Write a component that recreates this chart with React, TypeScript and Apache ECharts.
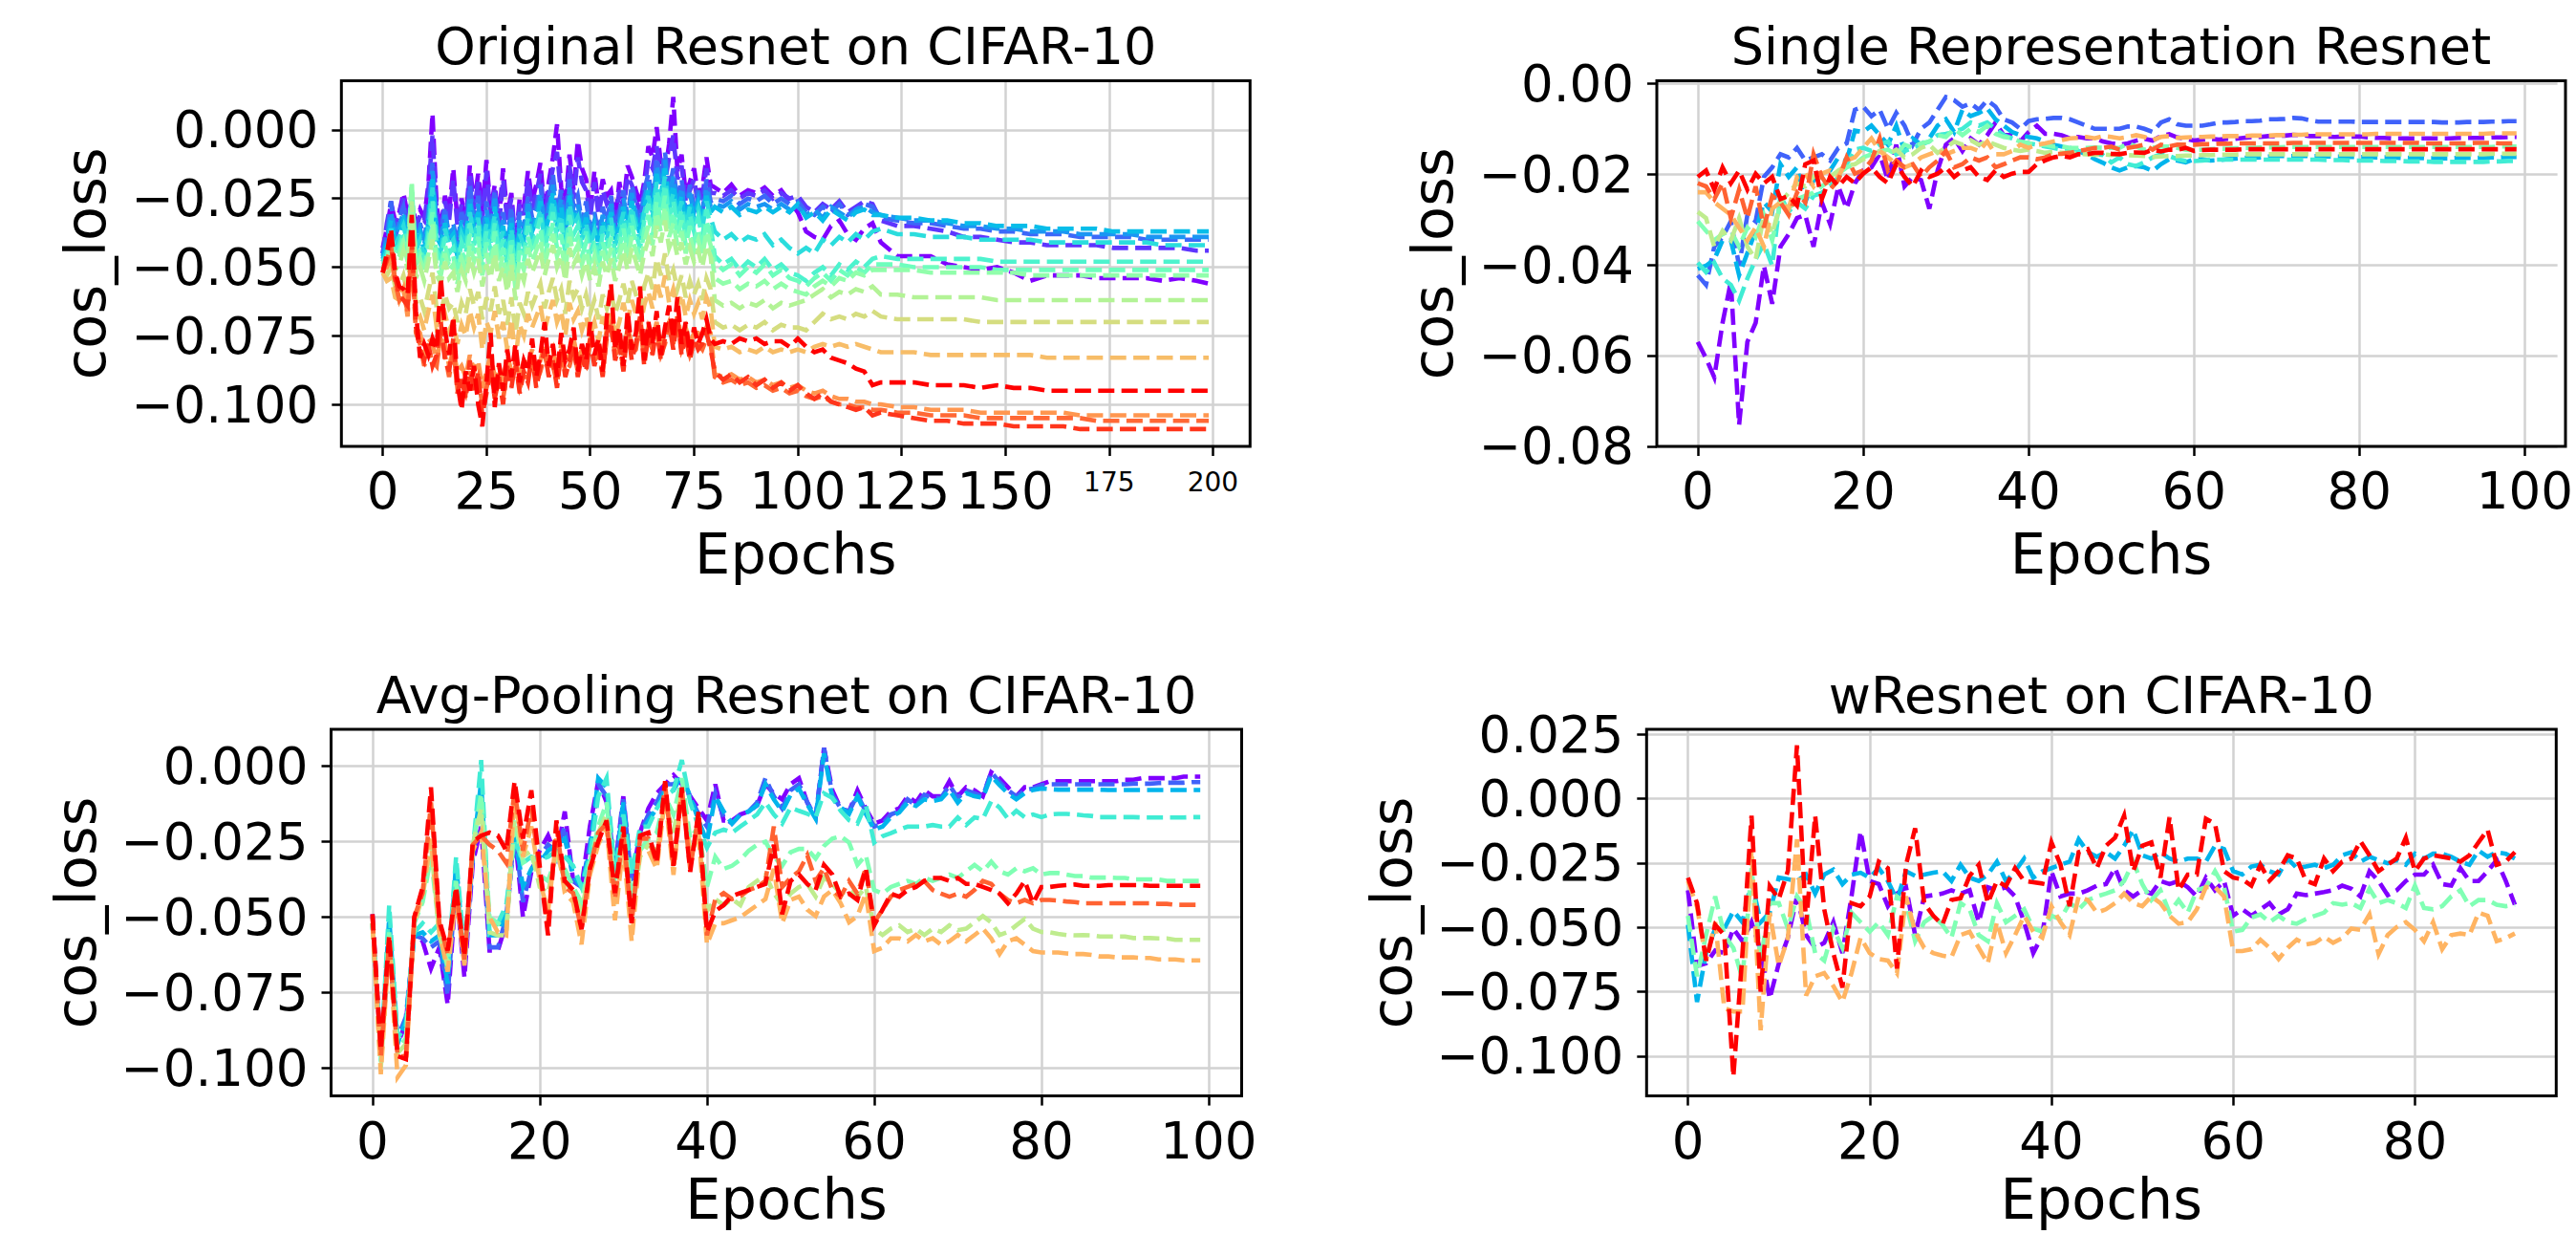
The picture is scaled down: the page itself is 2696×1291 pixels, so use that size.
import React, { useEffect, useRef } from "react";
import * as echarts from "echarts";

const FONT = '"DejaVu Sans", "Liberation Sans", sans-serif';

// ---------- x positions (epochs) ----------
const ORIG_EPOCHS: number[] = [];
for (let e = 0; e < 80; e++) ORIG_EPOCHS.push(e);
for (let e = 80; e <= 120; e += 2) ORIG_EPOCHS.push(e);
for (let e = 124; e <= 196; e += 4) ORIG_EPOCHS.push(e);
ORIG_EPOCHS.push(199);
const EPOCHS_100: number[] = Array.from({ length: 100 }, (_, i) => i);
const EPOCHS_92: number[] = Array.from({ length: 92 }, (_, i) => i);

// ---------- tick values ----------
const ORIG_X_TICKS = [0, 25, 50, 75, 100, 125, 150, 175, 200];
const ORIG_Y_TICKS = [0, -0.025, -0.05, -0.075, -0.1];
const SINGLE_X_TICKS = [0, 20, 40, 60, 80, 100];
const SINGLE_Y_TICKS = [0, -0.02, -0.04, -0.06, -0.08];
const AVG_X_TICKS = [0, 20, 40, 60, 80, 100];
const AVG_Y_TICKS = [0, -0.025, -0.05, -0.075, -0.1];
const WRES_X_TICKS = [0, 20, 40, 60, 80];
const WRES_Y_TICKS = [0.025, 0, -0.025, -0.05, -0.075, -0.1];

// ---------- colours (rainbow colormap) ----------
const RAINBOW_16 = ["#8000ff", "#5e35fe", "#3c68f9", "#1a96f3", "#08bde9", "#2bdddd", "#4df3ce", "#6efebd",
  "#91feab", "#b3f396", "#d5dd80", "#f7bd68", "#ff964f", "#ff6835", "#ff351b", "#ff0000"];
const RAINBOW_9 = ["#8000ff", "#4062fa", "#00b4ec", "#40ecd4", "#80ffb4", "#bfec8e", "#ffb462", "#ff6232", "#ff0000"];
const RAINBOW_5 = ["#8000ff", "#00b4ec", "#80ffb4", "#ffb462", "#ff0000"];

// ---------- Original Resnet (values x1e-3), epochs per ORIG_EPOCHS ----------
const ORIG_0 = [
  -43, -36, -27, -33, -30, -23, -31, -26, -34, -29, -32, -20, 6, -28, -36, -24, -30, -14, -33, -25,
  -34, -13, -27, -16, -30, -11, -29, -20, -33, -14, -31, -23, -42, -25, -28, -15, -26, -20, -12, -30,
  -19, -10, 2, -21, -27, -9, -22, -4, -14, -18, -30, -15, -28, -18, -24, -22, -33, -19, -27, -13,
  -17, -22, -27, -19, -6, -10, 1, -12, -16, -5, 12, -15, -9, -23, -19, -14, -24, -21, -10, -20,
  -21, -23, -20, -24, -22, -23, -21, -24, -22, -26, -30, -37, -39, -40, -35, -33, -38, -40, -36, -34, -41,
  -46, -46, -46, -49, -50, -51, -50, -52, -55, -53, -53, -53, -54, -54, -54, -54, -55, -54, -55, -56];
const ORIG_1 = [
  -45, -34, -26, -35, -30, -25, -33, -28, -36, -31, -33, -22, -2, -30, -37, -26, -33, -18, -35, -27,
  -35, -16, -29, -19, -33, -15, -31, -22, -35, -18, -33, -25, -43, -27, -31, -18, -29, -23, -16, -32,
  -22, -14, -8, -24, -30, -13, -25, -10, -19, -22, -32, -19, -31, -22, -27, -25, -35, -22, -29, -17,
  -20, -25, -30, -22, -11, -14, -6, -16, -19, -10, -2, -18, -13, -26, -22, -18, -27, -24, -14, -23,
  -23, -24, -22, -25, -23, -24, -22, -25, -23, -25, -24, -28, -30, -27, -29, -26, -30, -28, -26, -27, -33,
  -35, -35, -36, -37, -39, -39, -40, -41, -41, -42, -42, -42, -42, -43, -43, -43, -43, -43, -44, -44];
const ORIG_2 = [
  -45, -38, -26, -40, -32, -28, -36, -30, -42, -34, -40, -30, -12, -35, -38, -28, -40, -34, -42, -30,
  -36, -20, -32, -24, -38, -26, -34, -22, -36, -30, -40, -28, -45, -30, -36, -24, -32, -28, -20, -34,
  -26, -16, -30, -22, -36, -18, -28, -24, -34, -26, -36, -30, -38, -28, -34, -24, -36, -30, -22, -32,
  -20, -28, -34, -22, -16, -26, -10, -18, -8, -22, -14, -26, -18, -30, -20, -28, -22, -30, -18, -26,
  -25, -26, -24, -27, -25, -26, -24, -27, -25, -27, -26, -30, -31, -28, -30, -27, -31, -29, -27, -28, -32,
  -33, -34, -34, -35, -36, -36, -37, -37, -38, -38, -38, -39, -39, -39, -39, -40, -40, -40, -40, -40];
const ORIG_3 = [
  -46, -40, -30, -38, -35, -30, -38, -27, -40, -36, -42, -32, -15, -37, -40, -31, -38, -36, -44, -33,
  -38, -24, -35, -27, -40, -29, -37, -25, -38, -33, -42, -31, -47, -33, -38, -27, -35, -31, -23, -36,
  -29, -20, -33, -25, -38, -21, -31, -27, -36, -29, -38, -33, -40, -31, -36, -27, -38, -33, -25, -34,
  -23, -31, -36, -25, -19, -28, -13, -21, -11, -25, -17, -28, -21, -32, -23, -30, -25, -32, -21, -28,
  -27, -28, -26, -29, -27, -28, -27, -29, -27, -29, -28, -31, -29, -32, -28, -30, -32, -29, -28, -30, -31,
  -32, -33, -33, -34, -35, -35, -36, -36, -37, -37, -37, -38, -38, -38, -38, -39, -39, -39, -39, -39];
const ORIG_4 = [
  -47, -42, -33, -40, -37, -33, -40, -25, -42, -38, -44, -34, -18, -39, -42, -34, -40, -38, -46, -36,
  -40, -27, -37, -30, -42, -32, -39, -28, -40, -35, -44, -34, -48, -36, -40, -30, -37, -33, -26, -38,
  -32, -23, -35, -28, -40, -24, -33, -30, -38, -32, -40, -35, -42, -33, -38, -30, -40, -35, -28, -36,
  -26, -33, -38, -28, -22, -30, -16, -24, -14, -27, -20, -30, -24, -34, -26, -32, -27, -34, -24, -30,
  -28, -30, -28, -31, -29, -30, -28, -30, -28, -30, -27, -32, -30, -33, -29, -31, -33, -30, -29, -31, -31,
  -32, -32, -33, -33, -34, -34, -35, -35, -35, -36, -36, -36, -36, -37, -37, -37, -37, -37, -37, -37];
const ORIG_5 = [
  -48, -44, -36, -42, -39, -35, -41, -24, -44, -40, -46, -36, -21, -41, -44, -36, -42, -40, -48, -38,
  -42, -30, -39, -32, -44, -34, -41, -31, -42, -37, -46, -36, -50, -38, -42, -32, -39, -35, -29, -40,
  -34, -26, -37, -31, -42, -27, -35, -32, -40, -34, -42, -37, -44, -35, -40, -32, -42, -37, -30, -38,
  -28, -35, -40, -30, -24, -32, -19, -26, -17, -29, -23, -32, -26, -36, -28, -34, -29, -36, -26, -32,
  -37, -40, -38, -41, -39, -40, -38, -42, -40, -43, -45, -43, -45, -40, -42, -39, -41, -38, -40, -37, -36,
  -38, -38, -39, -39, -39, -40, -40, -40, -40, -41, -41, -41, -41, -41, -41, -41, -42, -42, -42, -42];
const ORIG_6 = [
  -48, -46, -38, -44, -42, -37, -44, -22, -47, -43, -48, -39, -26, -44, -47, -39, -45, -43, -50, -41,
  -45, -34, -42, -35, -47, -37, -44, -34, -45, -40, -49, -39, -52, -41, -45, -35, -42, -38, -32, -43,
  -37, -30, -40, -34, -45, -31, -38, -35, -43, -37, -45, -40, -47, -38, -43, -35, -45, -40, -33, -41,
  -31, -38, -43, -33, -27, -35, -22, -29, -20, -32, -26, -35, -29, -39, -31, -37, -32, -39, -29, -35,
  -46, -49, -47, -51, -48, -50, -47, -51, -49, -52, -53, -55, -52, -50, -53, -49, -51, -48, -50, -47, -46,
  -47, -47, -47, -47, -47, -47, -48, -48, -48, -48, -48, -48, -48, -48, -48, -48, -48, -48, -48, -48];
const ORIG_7 = [
  -49, -47, -40, -46, -44, -39, -46, -20, -49, -45, -50, -42, -30, -47, -50, -42, -48, -46, -53, -44,
  -48, -38, -45, -39, -50, -41, -47, -37, -48, -43, -52, -42, -55, -44, -48, -39, -45, -41, -36, -46,
  -40, -34, -43, -38, -48, -35, -42, -39, -46, -41, -48, -43, -50, -41, -46, -39, -48, -43, -36, -44,
  -35, -41, -46, -37, -31, -39, -26, -33, -24, -36, -30, -39, -33, -42, -35, -41, -36, -43, -33, -39,
  -48, -51, -49, -53, -50, -52, -49, -53, -51, -54, -55, -57, -54, -52, -55, -51, -53, -50, -52, -49, -49,
  -49, -50, -50, -50, -50, -50, -51, -51, -51, -51, -51, -51, -51, -51, -51, -51, -51, -51, -51, -51];
const ORIG_8 = [
  -50, -48, -42, -48, -46, -41, -48, -19, -51, -47, -52, -45, -34, -50, -53, -45, -51, -49, -56, -47,
  -51, -42, -48, -43, -53, -45, -50, -41, -51, -46, -55, -45, -58, -47, -51, -43, -48, -44, -40, -49,
  -43, -38, -46, -42, -51, -39, -45, -42, -49, -44, -51, -46, -53, -44, -49, -43, -51, -46, -40, -47,
  -39, -44, -49, -41, -35, -42, -30, -37, -28, -39, -34, -42, -37, -45, -39, -44, -40, -46, -37, -42,
  -54, -56, -55, -58, -56, -57, -55, -58, -56, -58, -59, -60, -57, -55, -57, -54, -55, -52, -53, -51, -51,
  -51, -51, -52, -52, -52, -52, -52, -52, -53, -53, -53, -53, -53, -53, -53, -53, -53, -53, -53, -53];
const ORIG_9 = [
  -50, -50, -45, -51, -49, -44, -51, -26, -54, -50, -55, -48, -40, -53, -56, -48, -54, -52, -59, -51,
  -55, -46, -52, -47, -57, -49, -54, -45, -55, -50, -59, -49, -62, -51, -55, -47, -52, -48, -44, -53,
  -47, -42, -50, -46, -55, -43, -49, -46, -53, -48, -55, -50, -57, -48, -53, -47, -55, -50, -44, -51,
  -43, -48, -53, -45, -40, -46, -35, -41, -33, -43, -39, -46, -41, -49, -43, -48, -44, -50, -42, -46,
  -62, -64, -63, -65, -63, -64, -62, -65, -63, -64, -63, -62, -60, -58, -61, -59, -60, -58, -59, -57, -60,
  -60, -61, -61, -61, -61, -61, -62, -62, -62, -62, -62, -62, -62, -62, -62, -62, -62, -62, -62, -62];
const ORIG_10 = [
  -51, -53, -50, -57, -57, -53, -60, -38, -63, -61, -66, -59, -52, -65, -67, -60, -65, -63, -70, -63,
  -67, -58, -64, -59, -69, -61, -66, -57, -67, -62, -71, -61, -74, -63, -67, -59, -64, -60, -56, -65,
  -59, -54, -62, -58, -67, -55, -61, -58, -65, -60, -67, -62, -69, -60, -65, -59, -67, -62, -56, -63,
  -55, -60, -65, -57, -52, -58, -47, -53, -45, -55, -51, -58, -53, -61, -55, -60, -56, -62, -54, -58,
  -70, -72, -71, -73, -71, -72, -70, -73, -71, -72, -72, -73, -70, -67, -69, -68, -69, -67, -68, -66, -68,
  -69, -69, -69, -69, -69, -70, -70, -70, -70, -70, -70, -70, -70, -70, -70, -70, -70, -70, -70, -70];
const ORIG_11 = [
  -52, -55, -54, -61, -62, -58, -66, -44, -70, -68, -73, -66, -60, -72, -70, -67, -73, -70, -78, -71,
  -75, -66, -72, -67, -80, -70, -74, -66, -76, -70, -80, -69, -83, -71, -75, -67, -72, -68, -64, -73,
  -67, -62, -70, -66, -75, -63, -69, -66, -73, -68, -75, -70, -77, -68, -73, -66, -75, -70, -63, -70,
  -62, -67, -72, -64, -59, -65, -55, -61, -53, -63, -58, -65, -60, -68, -62, -67, -63, -69, -61, -65,
  -79, -80, -79, -81, -80, -81, -79, -81, -80, -81, -80, -81, -79, -78, -79, -78, -79, -78, -79, -80, -81,
  -81, -81, -82, -82, -82, -82, -82, -82, -82, -83, -83, -83, -83, -83, -83, -83, -83, -83, -83, -83];
const ORIG_12 = [
  -51, -50, -46, -56, -62, -58, -68, -46, -72, -74, -82, -76, -78, -84, -76, -78, -86, -80, -88, -86,
  -90, -82, -88, -84, -94, -88, -82, -90, -86, -92, -82, -88, -84, -90, -84, -86, -80, -88, -84, -78,
  -84, -80, -88, -78, -84, -82, -76, -84, -80, -82, -76, -80, -78, -84, -72, -70, -78, -76, -82, -72,
  -78, -76, -68, -80, -72, -76, -70, -78, -74, -70, -74, -68, -76, -72, -78, -74, -74, -76, -72, -74,
  -89, -90, -89, -91, -90, -92, -91, -93, -92, -94, -93, -95, -96, -95, -97, -98, -98, -99, -99, -100, -100,
  -101, -101, -102, -102, -102, -103, -103, -103, -103, -103, -103, -104, -104, -104, -104, -104, -104, -104, -104, -104];
const ORIG_13 = [
  -51, -48, -42, -55, -62, -60, -66, -42, -74, -78, -86, -80, -84, -86, -74, -82, -90, -80, -94, -92,
  -96, -88, -94, -90, -100, -94, -88, -96, -92, -98, -88, -92, -86, -94, -90, -90, -84, -92, -88, -82,
  -88, -86, -92, -82, -88, -86, -80, -88, -84, -86, -78, -84, -82, -88, -76, -72, -82, -80, -86, -74,
  -82, -80, -70, -84, -76, -80, -74, -82, -78, -72, -78, -70, -80, -76, -82, -78, -78, -80, -76, -78,
  -90, -92, -91, -93, -92, -94, -93, -95, -94, -96, -95, -97, -98, -97, -99, -100, -100, -101, -101, -102, -102,
  -103, -103, -104, -104, -104, -105, -105, -105, -105, -105, -105, -105, -106, -106, -106, -106, -106, -106, -106, -106];
const ORIG_14 = [
  -52, -47, -40, -54, -60, -62, -64, -40, -72, -80, -84, -78, -86, -82, -70, -84, -88, -76, -96, -90,
  -98, -84, -96, -88, -104, -96, -86, -98, -90, -100, -86, -94, -84, -96, -88, -92, -82, -94, -86, -80,
  -90, -84, -94, -80, -90, -84, -78, -90, -82, -88, -76, -86, -80, -90, -74, -70, -84, -78, -88, -72,
  -84, -78, -68, -86, -74, -82, -72, -84, -76, -70, -80, -68, -82, -74, -84, -76, -80, -78, -74, -80,
  -88, -91, -89, -92, -90, -93, -91, -94, -92, -95, -93, -96, -98, -96, -99, -100, -101, -102, -101, -104, -103,
  -104, -105, -106, -106, -107, -107, -107, -108, -108, -108, -108, -109, -109, -109, -109, -109, -109, -109, -109, -109];
const ORIG_15 = [
  -52, -45, -36, -52, -57, -58, -60, -31, -66, -83, -78, -82, -76, -80, -54, -73, -82, -68, -92, -102,
  -88, -95, -86, -100, -108, -92, -74, -101, -85, -95, -80, -90, -78, -92, -84, -88, -76, -90, -82, -70,
  -86, -78, -90, -74, -84, -80, -72, -88, -78, -84, -70, -82, -76, -88, -68, -56, -80, -72, -86, -66,
  -80, -74, -57, -84, -70, -78, -66, -82, -72, -64, -76, -61, -78, -70, -82, -72, -78, -74, -69, -76,
  -78, -77, -78, -76, -77, -76, -78, -77, -77, -79, -76, -79, -81, -80, -83, -84, -85, -87, -88, -93, -92,
  -92, -92, -93, -93, -93, -94, -93, -94, -94, -95, -95, -95, -95, -95, -95, -95, -95, -95, -95, -95];
const ORIG_SERIES = [ORIG_0, ORIG_1, ORIG_2, ORIG_3, ORIG_4, ORIG_5, ORIG_6, ORIG_7,
  ORIG_8, ORIG_9, ORIG_10, ORIG_11, ORIG_12, ORIG_13, ORIG_14, ORIG_15];

// ---------- Single Representation Resnet (x1e-3), epochs 0..99 ----------
const SINGLE_0 = [
  -57, -60.6, -64.8, -52.8, -43.7, -75.3, -57, -52.8, -40.2, -48.6, -36, -33.2, -29.7, -29, -36, -26.2, -31, -22.7, -27.6, -22,
  -19.2, -18.5, -15.6, -21.3, -13.5, -22.7, -20.6, -21.3, -27.6, -19.2, -13.5, -12.1, -14.9, -12.1, -13.5, -11.4, -8.6, -11.4, -11.4, -12.8,
  -10.7, -9.3, -11.1, -11.1, -11.4, -12.1, -11.8, -12.1, -12.1, -12.8, -13.2, -13.5, -13.2, -12.6, -12.2, -12.6, -11.6, -11.2, -11.9, -12.2,
  -12.6, -12.4, -12.2, -12.4, -12.2, -12.2, -12, -11.8, -11.8, -11.6, -11.6, -11.5, -11.3, -11.4, -11.6, -11.6, -11.7, -11.8, -11.7, -11.7,
  -11.7, -11.9, -12, -12, -12.1, -12.1, -12.1, -12.1, -12.1, -12.1, -12.1, -12.1, -12, -12, -12, -12, -11.9, -11.9, -11.8, -11.8];
const SINGLE_1 = [
  -42.3, -44.4, -36, -33.9, -30.4, -40.2, -29, -30.4, -20.6, -18.5, -15.6, -16.3, -14.2, -17, -16.3, -15.6, -17, -14.2, -13.2, -5.8,
  -5.1, -7.2, -5.8, -10, -6.5, -9.3, -13.5, -10, -8.6, -5.8, -3, -3.7, -5.1, -4.4, -5.8, -3.7, -5.1, -7.9, -8.6, -10,
  -8.3, -7.9, -7.8, -7.6, -7.6, -7.9, -8.6, -9.3, -10, -10, -10, -10, -9.5, -9.5, -10, -10.7, -8.6, -7.9, -9, -9.3,
  -9.3, -9.3, -9, -8.6, -8.6, -8.5, -8.3, -8.3, -8.2, -7.9, -7.9, -7.8, -7.6, -7.7, -8.1, -8.4, -8.4, -8.4, -8.4, -8.4,
  -8.5, -8.5, -8.5, -8.5, -8.5, -8.5, -8.5, -8.5, -8.5, -8.5, -8.6, -8.6, -8.6, -8.5, -8.5, -8.5, -8.4, -8.4, -8.3, -8.3];
const SINGLE_2 = [
  -40.9, -40.2, -38.8, -34.6, -34.6, -42.3, -37.4, -32.5, -26.2, -28.3, -17.8, -20.6, -18.5, -26.2, -21.3, -20.6, -19.2, -16.3, -17, -10.4,
  -10.7, -9.3, -11.4, -13.5, -9.3, -14.9, -12.1, -13.5, -12.1, -9.3, -7.9, -10.7, -5.8, -7.2, -6.5, -5.5, -7.9, -9.3, -10.7, -11.4,
  -11.8, -12.1, -12.8, -13.5, -13.9, -14.2, -14.9, -15.6, -16.7, -17.5, -18.5, -19.2, -18.5, -18.2, -18.5, -19.3, -17.8, -16.7, -17, -17.4,
  -16.7, -16.7, -17, -16.9, -16.7, -16.6, -16.4, -16.4, -16.3, -16.1, -16, -16, -16, -16, -16, -16, -16.1, -16.1, -16.1, -16.2,
  -16.2, -16.2, -16.3, -16.3, -16.3, -16.4, -16.4, -16.4, -16.5, -16.5, -16.5, -16.5, -16.4, -16.4, -16.4, -16.4, -16.3, -16.3, -16.2, -16.2];
const SINGLE_3 = [
  -39.5, -41.6, -39.5, -43, -44.4, -47.9, -43, -38.8, -35.3, -40.2, -24.8, -28.3, -26.2, -27.6, -24.8, -24.1, -22.7, -20.6, -17.8, -14.6,
  -14.2, -14.9, -13.5, -12.8, -15.6, -14.9, -14.2, -13.5, -12.8, -11.4, -11.1, -10.7, -10, -8.6, -9.3, -8.6, -10, -11.4, -12.1, -12.8,
  -13.2, -13.5, -13.9, -14.2, -14.6, -14.6, -14.9, -15.3, -15.6, -15.8, -17.4, -16.3, -17.8, -18.2, -17.4, -16.3, -15.6, -16, -16.7, -17.1,
  -17.1, -17, -16.8, -16.8, -16.8, -16.8, -16.8, -16.8, -16.8, -16.8, -16.8, -16.8, -16.8, -16.8, -16.8, -16.8, -16.9, -16.9, -16.9, -17,
  -17, -17, -17, -17.1, -17.1, -17.1, -17.2, -17.2, -17.2, -17.3, -17.3, -17.3, -17.3, -17.3, -17.3, -17.3, -17.2, -17.2, -17.1, -17.1];
const SINGLE_4 = [
  -30.4, -32.5, -34.6, -33.2, -32.5, -36, -31.8, -33.9, -29, -34.6, -26.2, -27.6, -25.5, -24.8, -24.1, -22.7, -21.3, -19.9, -18.5, -17.8,
  -16.3, -15.6, -14.9, -14.6, -15.6, -13.5, -14.2, -13.2, -12.8, -11.4, -11.8, -10, -11.4, -10, -10.7, -9.3, -11.1, -11.8, -12.1, -12.8,
  -13.2, -13.5, -13.5, -13.9, -13.9, -14.2, -14.2, -14.2, -14.1, -14.2, -14.2, -14.2, -13.2, -13.9, -14.6, -14.2, -13.9, -13.9, -14.2, -14.6,
  -14.7, -14.6, -14.5, -14.4, -14.4, -14.3, -14.2, -14.2, -14.1, -14.1, -14.1, -14, -14, -14, -14, -14, -14, -14, -14, -14,
  -14, -14, -14, -14, -14, -14, -14, -14, -14, -14, -14, -14, -14, -14, -14, -14, -14, -13.9, -13.9, -13.9];
const SINGLE_5 = [
  -28.3, -29.7, -36, -32.5, -34.6, -29.7, -36, -38.8, -29, -33.2, -26.2, -24.1, -22, -22.7, -20.6, -19.9, -20.6, -19.2, -18.1, -17.8,
  -16.7, -16.3, -14.9, -15.6, -14.6, -16.3, -15.6, -14.2, -13.5, -15.3, -14.2, -12.8, -13.5, -12.5, -13.5, -12.8, -13.5, -14.2, -14.6, -14.9,
  -14.6, -14.9, -15.3, -15.1, -15.3, -15.3, -15.5, -15.6, -15.8, -15.6, -15.8, -15.6, -15.8, -15.9, -16, -16.2, -16.1, -16, -16, -15.9,
  -15.9, -15.8, -15.8, -15.7, -15.7, -15.7, -15.6, -15.6, -15.6, -15.6, -15.6, -15.6, -15.6, -15.6, -15.6, -15.6, -15.6, -15.6, -15.6, -15.6,
  -15.6, -15.6, -15.6, -15.6, -15.6, -15.6, -15.6, -15.6, -15.6, -15.6, -15.6, -15.6, -15.6, -15.6, -15.6, -15.6, -15.5, -15.5, -15.5, -15.5];
const SINGLE_6 = [
  -24, -24, -26.2, -27.6, -29, -31.8, -34.6, -31.8, -36, -27.6, -26.2, -27.6, -20.6, -19.9, -22.7, -19.9, -19.2, -20.6, -17, -16.3,
  -14.2, -12.1, -14.9, -16.3, -17.8, -18.5, -17.8, -16.3, -15.6, -14.9, -15.6, -14.9, -14.2, -14.2, -14.9, -12.8, -15.6, -15.6, -14.9, -13.5,
  -14.2, -13.5, -13.2, -12.8, -12.5, -12.1, -12, -11.8, -12.1, -11.6, -11.8, -12.1, -11.8, -11.4, -11.8, -12.5, -11.8, -11.6, -12, -11.9,
  -11.8, -11.8, -11.7, -11.7, -11.6, -11.6, -11.6, -11.5, -11.5, -11.5, -11.4, -11.4, -11.3, -11.3, -11.2, -11.2, -11.2, -11.2, -11.2, -11.2,
  -11.2, -11.2, -11.1, -11.1, -11.1, -11.1, -11.1, -11.1, -11.1, -11.1, -11.1, -11.1, -11.1, -11.1, -11.1, -11.1, -11, -11, -11, -11];
const SINGLE_7 = [
  -22, -22.7, -25.5, -22, -29.7, -23.4, -29.7, -22.7, -31.8, -24.8, -26.2, -29, -24.1, -26.2, -15.6, -20.6, -23.4, -21.3, -16.3, -19.9,
  -19.2, -17, -12.1, -19.2, -17, -18.5, -17.8, -20.6, -18.5, -17, -14.9, -18.5, -17.8, -16.3, -17, -16.3, -18.5, -17.8, -17, -16.3,
  -16.3, -16.7, -16.3, -15.6, -15.5, -15.3, -14.9, -14.6, -14.2, -14.2, -13.9, -14.6, -14.2, -13.9, -13.5, -14.6, -13.5, -13.9, -13.5, -13.5,
  -13.5, -13.4, -13.4, -13.3, -13.3, -13.2, -13.2, -13.2, -13.2, -13.2, -13.2, -13.2, -13.1, -13.1, -13.1, -13.1, -13.1, -13.1, -13.1, -13.1,
  -13.1, -13.1, -13.1, -13.1, -13.1, -13.1, -13.1, -13.1, -13.2, -13.2, -13.2, -13.2, -13.2, -13.2, -13.1, -13.1, -13.1, -13.2, -13.2, -13.2];
const SINGLE_8 = [
  -20.6, -19.2, -23.4, -18.5, -22, -19.2, -23.4, -19.9, -22, -20.6, -25.5, -24.8, -26.9, -17.8, -17, -25.5, -20.6, -22.7, -20.6, -22,
  -19.9, -18.5, -20.6, -22, -17.8, -20.6, -22.7, -19.2, -20.6, -19.9, -18.5, -20.6, -19.2, -18.5, -20.6, -21.3, -19.2, -20.6, -19.9, -19.5,
  -19.5, -17.8, -17, -16.3, -16, -16.3, -15.6, -15.6, -15.3, -15.3, -15.5, -15.6, -15.3, -15.2, -15.3, -14.6, -15, -14.6, -14.6, -14.2,
  -14.9, -14.7, -14.6, -14.6, -14.6, -14.6, -14.5, -14.5, -14.5, -14.5, -14.5, -14.5, -14.5, -14.5, -14.5, -14.5, -14.5, -14.5, -14.5, -14.5,
  -14.5, -14.5, -14.5, -14.5, -14.5, -14.5, -14.5, -14.5, -14.5, -14.5, -14.5, -14.5, -14.5, -14.5, -14.5, -14.5, -14.5, -14.5, -14.5, -14.5];
const SINGLE_SERIES = [SINGLE_0, SINGLE_1, SINGLE_2, SINGLE_3, SINGLE_4, SINGLE_5, SINGLE_6, SINGLE_7, SINGLE_8];

// ---------- Avg-Pooling Resnet (x1e-3), epochs 0..99 ----------
const AVG_0 = [
  -49, -95, -60, -92, -85, -55, -58, -67, -60, -79, -40, -70, -32, -20, -61, -61, -52, -22, -50, -35,
  -28, -23, -30, -15, -38, -40, -20, -5, -12, -34, -10, -38, -22, -14, -9, -6, -3, -6, -10, -14,
  -18, -6, -18, -18, -16, -15, -13, -6, -9, -11, -6, -4, -12, -17, 6, -8, -14, -15, -8, -14,
  -19, -18, -15, -14, -10, -12, -8, -10, -10, -5, -10, -7, -8, -10, -2, -4, -7, -10, -7, -7,
  -6, -5, -5, -5, -5, -5, -5, -5, -5, -5, -4.5, -4.5, -4, -4, -4, -4, -4, -3.5, -3.5, -3.5];
const AVG_1 = [
  -52, -96, -55, -90, -83, -56, -57, -60, -58, -76, -36, -66, -30, -12, -60, -60, -50, -22, -45, -34,
  -30, -26, -28, -20, -38, -40, -26, -6, -10, -35, -11, -38, -22, -16, -12, -6, -6, -4, -10, -16,
  -20, -9, -17, -19, -16, -15, -12, -4, -10, -14, -8, -6, -12, -17, 6, -9.5, -14, -15, -9.5, -15,
  -20, -19, -16, -15, -11, -13, -9.5, -10.5, -10.5, -6.3, -10.5, -8, -9, -10, -2, -5.3, -8, -10, -8, -7.4,
  -6.3, -6, -6, -6, -6, -6, -6, -6, -6, -6, -6, -5.8, -5.8, -5.8, -5.6, -5.5, -5.5, -5.5, -5.3, -5.3];
const AVG_2 = [
  -52, -97, -50, -92, -84, -56, -55, -58, -56, -72, -32, -64, -29, -5, -56, -56, -48, -22, -40, -34,
  -32, -28, -26, -24, -36, -40, -28, -4, -7, -36, -12, -36, -22, -18, -14, -8, -8, -3, -10, -18,
  -25, -10, -15, -19, -16, -15, -13, -6, -11, -15, -9.5, -7.4, -12.7, -17.4, 4.2, -10.5, -13.7, -15.8, -10, -15.8,
  -21, -20, -16.9, -15.3, -12.1, -13.2, -11, -11.6, -11, -7.9, -12.1, -9, -10, -10.5, -3.2, -6.3, -9, -11, -9, -7.9,
  -7.4, -7.6, -7.8, -7.8, -7.8, -7.8, -7.8, -7.8, -7.9, -7.9, -7.9, -7.9, -7.9, -7.9, -7.9, -7.9, -7.9, -7.9, -7.9, -7.9];
const AVG_3 = [
  -52, -98, -46, -90, -86, -55, -52, -55, -52, -68, -30, -62, -28, 2, -55, -52, -46, -24, -32, -30,
  -31, -30, -28, -30, -33, -40, -30, -10, -4, -36, -16, -36, -20, -20, -14, -10, -8, 2, -12, -20,
  -27, -22, -21, -22, -20, -18, -16, -12, -16, -19, -13.7, -14.8, -15.8, -16.9, -9, -10.5, -14.8, -17.9, -19, -12.7,
  -25.3, -23.2, -22.2, -21, -20, -20, -20, -19.5, -20, -20, -17, -19.5, -17, -17.5, -11.6, -13.7, -17.4, -14.8, -16.9, -16,
  -16.9, -16, -15.8, -15.8, -16, -16.3, -16.5, -16.9, -16.9, -16.9, -16.9, -16.9, -17, -17, -17, -17, -17, -17, -16.9, -16.9];
const AVG_4 = [
  -52, -98, -55, -94, -90, -52, -45, -30, -55, -65, -38, -64, -27, -9, -50, -52, -54, -18, -32, -30,
  -36, -38, -30, -34, -40, -45, -32, -20, -12, -40, -22, -44, -28, -24, -22, -10, -16, -4, -24, -20,
  -40, -30, -34, -33, -31, -28, -26, -25, -30, -33, -28.5, -27.4, -27.4, -30.6, -26.4, -24, -23.2, -25.3, -32.7, -29.5,
  -41, -42.2, -40, -39, -38, -39, -37, -38, -37, -35.9, -37, -34.8, -32.7, -34.8, -31.6, -34.8, -35.9, -33.8, -34.8, -33.8,
  -35.9, -35.4, -35.4, -35.9, -36.4, -36.4, -36.9, -36.9, -36.9, -37, -37, -37.5, -37.5, -37.5, -37.5, -38, -38, -38, -38, -38];
const AVG_5 = [
  -52, -100, -56, -95, -92, -52, -43, -26, -56, -66, -40, -65, -26, -14, -55, -56, -56, -14, -30, -28,
  -40, -42, -28, -38, -42, -48, -34, -22, -16, -46, -24, -50, -30, -26, -28, -12, -22, -8, -28, -24,
  -48, -44, -46, -44, -46, -40, -38, -36, -42, -46, -42.2, -40, -39, -43.2, -36.9, -39, -42.2, -41, -43.2, -40,
  -53.8, -55.9, -53.8, -52.7, -54.9, -53.8, -55.9, -53.8, -54.9, -52.7, -54.3, -53.8, -51.7, -49.6, -51.7, -55.9, -54.9, -52.7, -50.6, -53.8,
  -54.9, -55, -55.5, -55.9, -56, -55.9, -56, -56.4, -56.4, -56.4, -56.4, -56.9, -56.9, -56.9, -57, -57, -57.5, -57.5, -57.5, -57.5];
const AVG_6 = [
  -52, -102, -58, -103, -99, -52, -42, -24, -55, -68, -43, -66, -28, -22, -50, -55, -56, -8, -30, -20,
  -38, -48, -24, -42, -45, -59, -36, -26, -20, -51, -26, -58, -28, -28, -34, -10, -36, -8, -30, -22,
  -59, -52, -52, -51, -50, -48, -46, -44, -34, -52, -44.3, -43.2, -47.5, -49.6, -43.2, -41, -45.4, -51.7, -49.6, -42.2,
  -61.2, -60.1, -57, -57, -58, -55.9, -58, -57, -59.1, -58, -55.9, -58, -55.9, -53.8, -57, -62.2, -58, -57, -59.1, -61.2,
  -61.7, -61.7, -61.7, -62, -62.2, -62.2, -62.5, -63, -63, -63.3, -63.3, -63.3, -63.5, -63.5, -64, -64, -64, -64.3, -64.3, -64.3];
const AVG_7 = [
  -50, -96, -58, -96, -96, -50, -42, -12, -52, -62, -41, -64, -26, -23, -26, -28, -32, -8, -28, -14,
  -35, -52, -20, -40, -42, -54, -34, -22, -19, -44, -22, -52, -24, -24, -32, -6, -34, -8, -34, -16,
  -56, -44, -42, -44, -43, -41, -40, -38, -20, -40, -37, -34.8, -29.5, -38, -33.8, -41, -43.2, -38, -42.2, -33.8,
  -51.7, -47.5, -43.2, -41, -40, -39, -38, -41, -42.2, -43.2, -42.2, -43.2, -41, -38, -39, -42.2, -44.3, -45.4, -44.3, -45.4,
  -44.3, -44.3, -44.5, -44.8, -45, -45.4, -45.4, -45.4, -45.4, -45.4, -45.4, -45.4, -45.4, -45.4, -45.6, -45.6, -45.9, -45.9, -45.9, -45.9];
const AVG_8 = [
  -49, -94, -56, -96, -97, -50, -40, -7, -51, -61, -40, -63, -25, -23, -22, -23, -28, -5, -24, -8,
  -33, -56, -18, -38, -41, -54, -34, -25, -18, -42, -20, -52, -23, -22, -32, -5, -33, -7, -35, -15,
  -55, -48, -46, -43, -42, -41, -40, -39, -26, -49, -38, -35.9, -39, -41, -32.7, -35.9, -43.2, -42.2, -44.3, -33.8,
  -52.7, -47.5, -42.2, -43.2, -41, -40, -38, -37, -37, -38, -37, -39, -39, -40, -41, -42.2, -45.4, -42.2, -38, -45.4,
  -40, -40, -39.6, -39.4, -39.2, -39.6, -39.6, -39.6, -39.4, -39.4, -39.4, -39.4, -39.4, -39.6, -39.6, -39.6, -39.6, -39.6, -39.6, -39.6];
const AVG_SERIES = [AVG_0, AVG_1, AVG_2, AVG_3, AVG_4, AVG_5, AVG_6, AVG_7, AVG_8];

// ---------- wResnet (x1e-3), epochs 0..91 ----------
const WRES_0 = [
  -35.6, -65, -64, -59, -60, -50.5, -55.4, -48, -59, -77.7, -64, -54, -38, -53, -58, -56, -48, -60, -38, -12.7,
  -32, -33.2, -41.8, -36.9, -34.4, -53, -38, -37.5, -36.9, -35.6, -36.9, -35.6, -48, -34.4, -35.6, -34.4, -38, -48, -60, -53,
  -28.2, -38, -36.9, -36.9, -35.6, -33.8, -33.2, -27, -35.6, -38, -35.6, -36.9, -32, -33.2, -32, -34.4, -38, -30.7, -35.6, -32,
  -45.5, -43, -45.5, -43, -40.6, -45, -43, -36.9, -37.5, -36.9, -36.3, -35.6, -33.8, -35, -38, -28.2, -32, -37.5, -35.6, -32,
  -29.5, -29.5, -25.7, -33.2, -33.8, -27, -32, -32, -28.2, -23.9, -32, -41.2];
const WRES_1 = [
  -49, -79, -60, -50.5, -50.5, -43.7, -48, -32, -48, -44.3, -30.7, -31.3, -32, -29.5, -36.9, -29.5, -27.6, -33.2, -29.5, -28.8,
  -30.7, -27, -32, -39.4, -28.2, -30, -29.5, -28.8, -28.2, -32, -25.7, -30.7, -32, -29.5, -24.5, -32, -28.2, -23.3, -30.7, -28.2,
  -27, -25.7, -24.5, -15.8, -20.8, -22.6, -20.8, -23.3, -18.3, -12.1, -22, -23.3, -20.8, -23.3, -24.5, -23.3, -23.3, -24.5, -18.3, -19.6,
  -28.2, -29.5, -26.4, -25.7, -28.2, -29.5, -23.3, -27, -26.4, -25.7, -27, -25.7, -22, -20.8, -24.5, -22.6, -23.9, -25.1, -23.9, -25.7,
  -21.4, -23.3, -21.4, -21.4, -22.6, -24.5, -25.7, -20.2, -22.6, -20.8, -21.4, -23.3];
const WRES_2 = [
  -45.5, -69, -53, -38, -53, -58, -70, -27, -62.9, -40.6, -40.6, -50.5, -38, -43, -60, -62.9, -50.5, -58, -44.3, -48,
  -51.7, -48, -53, -38, -40.6, -55.4, -48, -45.5, -49, -54, -40.6, -43, -53, -55.4, -40.6, -48, -45.5, -43, -50.5, -51.7,
  -45.5, -46.8, -40.6, -43, -39.4, -38, -36.9, -35.6, -32, -24.5, -33.2, -39.4, -35.6, -44.3, -39.4, -44.3, -35.6, -34.4, -28.2, -34.4,
  -51.7, -51, -46.2, -45, -48, -45.5, -48, -48.6, -46.8, -45.5, -44.3, -40.6, -41.2, -40.6, -42.5, -35, -40.6, -39.4, -40.6, -42.5,
  -33.8, -42.5, -43, -41.8, -38, -35.6, -41.8, -39.4, -39.4, -41.2, -41.8, -41.2];
const WRES_3 = [
  -32, -42, -62.9, -48, -81.4, -82.7, -82.7, -19.6, -90, -44.3, -65, -54, -15.8, -76.5, -69, -67.8, -72.8, -79, -67.8, -54,
  -60, -62.3, -62.9, -67.8, -38, -51.7, -58, -60, -61, -61.6, -53, -51.7, -58, -64, -48, -60, -53, -45.5, -51.7, -54,
  -41.8, -48, -53, -38, -39.4, -44.3, -43, -40.6, -36.9, -40.6, -41.8, -38, -40.6, -45.5, -48.6, -48, -43, -34.4, -34.4, -38,
  -59.2, -59.2, -58.5, -54.8, -58, -62.3, -58, -54.8, -56.7, -56, -53.6, -56, -54.2, -50.5, -51, -45, -60.4, -53, -49.9, -48,
  -51, -55.4, -48, -58.5, -53, -52.4, -53, -44.3, -45.5, -55.4, -54.2, -52.4];
const WRES_4 = [
  -30.7, -40.6, -62.9, -49, -53, -108, -60, -6.6, -75, -34, -39, -28, 20.7, -49, -6.6, -43, -60, -73.4, -40.6, -41.8,
  -38, -24.5, -27, -66, -25.7, -11.5, -40.6, -45.5, -49, -39.4, -38.7, -30, -25.7, -40.6, -32, -34, -27, -32, -32.5, -33,
  -17, -25.7, -41.8, -20.8, -19.6, -27, -18.3, -15.2, -6.6, -28.2, -18.3, -17, -30.7, -7.2, -35.6, -29.5, -29.5, -7.8, -9.7, -28.2,
  -30.7, -31.3, -33.8, -25.7, -31.9, -28.2, -22, -23.3, -31.9, -33.2, -23.3, -28.2, -24.5, -23.3, -16.5, -22, -28.2, -25.7, -23.3, -15.2,
  -28.2, -23.3, -22, -22.6, -23.3, -24.5, -22, -17, -12.1, -25.7, -24.5, -20.8];
const WRES_SERIES = [WRES_0, WRES_1, WRES_2, WRES_3, WRES_4];

// ---------- layout of the four panels ----------
const PANELS = [
  { title: "Original Resnet on CIFAR-10", left: 357.3, top: 84.5, width: 951, height: 382.5,
    xMin: -9.95, xMax: 208.95, yMin: -0.1153, yMax: 0.0179, xTicks: ORIG_X_TICKS, yTicks: ORIG_Y_TICKS, dec: 3,
    titleBase: 67.3, xNameBase: 600, yNameBase: 110 },
  { title: "Single Representation Resnet", left: 1734, top: 84.5, width: 951, height: 382.5,
    xMin: -4.95, xMax: 103.95, yMin: -0.08005, yMax: 0.0006, xTicks: SINGLE_X_TICKS, yTicks: SINGLE_Y_TICKS, dec: 2,
    titleBase: 67.3, xNameBase: 600, yNameBase: 1520 },
  { title: "Avg-Pooling Resnet on CIFAR-10", left: 346.5, top: 763, width: 953, height: 383.6,
    xMin: -4.95, xMax: 103.95, yMin: -0.10917, yMax: 0.01218, xTicks: AVG_X_TICKS, yTicks: AVG_Y_TICKS, dec: 3,
    titleBase: 745.8, xNameBase: 1275, yNameBase: 100 },
  { title: "wResnet on CIFAR-10", left: 1723.3, top: 763, width: 952, height: 383.6,
    xMin: -4.55, xMax: 95.55, yMin: -0.11552, yMax: 0.02693, xTicks: WRES_X_TICKS, yTicks: WRES_Y_TICKS, dec: 3,
    titleBase: 745.8, xNameBase: 1275, yNameBase: 1477 },
];

const GRID_COLOR = "#d2d2d2";

function fmtY(v: number, dec: number) {
  const s = Math.abs(v).toFixed(dec);
  return (v < -1e-9 ? "\u2212" : "") + s;
}

function line(xs: number[], vals: number[], color: string, idx: number) {
  const data: number[][] = [];
  for (let k = 0; k < xs.length && k < vals.length; k++) data.push([xs[k], vals[k] / 1000]);
  return {
    type: "line",
    xAxisIndex: idx,
    yAxisIndex: idx,
    data,
    showSymbol: false,
    symbol: "none",
    silent: true,
    clip: true,
    animation: false,
    emphasis: { disabled: true },
    lineStyle: { color, width: 4.6, type: [17, 7.4], cap: "butt", join: "miter" },
    itemStyle: { color },
  };
}

export default function App() {
  const ref = useRef<HTMLDivElement | null>(null);

  useEffect(() => {
    document.body.style.margin = "0";
    if (!ref.current) return;
    const chart = echarts.init(ref.current, undefined, { renderer: "svg" });

    const grids = PANELS.map((p) => ({ left: p.left, top: p.top, width: p.width, height: p.height, show: false, containLabel: false }));

    const xAxes = PANELS.map((p, i) => ({
      type: "value",
      gridIndex: i,
      position: "bottom",
      min: p.xMin,
      max: p.xMax,
      axisLine: { show: false, onZero: false },
      axisTick: { show: true, inside: false, length: 10, lineStyle: { color: "#000", width: 2.5 }, customValues: p.xTicks },
      axisLabel: {
        show: true,
        customValues: p.xTicks,
        margin: 20,
        fontSize: 53,
        fontFamily: FONT,
        color: "#000",
        formatter: (v: number) => (i === 0 && v >= 175 ? `{s|${v}}` : String(v)),
        rich: { s: { fontSize: 28, fontFamily: FONT, color: "#000", padding: [3, 0, 0, 0] } },
      },
      splitLine: { show: true, lineStyle: { color: GRID_COLOR, width: 2.5 } },
    }));

    const yAxes = PANELS.map((p, i) => ({
      type: "value",
      gridIndex: i,
      position: "left",
      min: p.yMin,
      max: p.yMax,
      axisLine: { show: false, onZero: false },
      axisTick: { show: true, inside: false, length: 10, lineStyle: { color: "#000", width: 2.5 }, customValues: p.yTicks },
      axisLabel: {
        show: true,
        customValues: p.yTicks,
        margin: 24,
        fontSize: 53,
        fontFamily: FONT,
        color: "#000",
        formatter: (v: number) => fmtY(v, p.dec),
      },
      splitLine: { show: true, lineStyle: { color: GRID_COLOR, width: 2.5 } },
    }));

    const series: any[] = [];
    ORIG_SERIES.forEach((vals, k) => series.push(line(ORIG_EPOCHS, vals, RAINBOW_16[k], 0)));
    SINGLE_SERIES.forEach((vals, k) => series.push(line(EPOCHS_100, vals, RAINBOW_9[k], 1)));
    AVG_SERIES.forEach((vals, k) => series.push(line(EPOCHS_100, vals, RAINBOW_9[k], 2)));
    WRES_SERIES.forEach((vals, k) => series.push(line(EPOCHS_92, vals, RAINBOW_5[k], 3)));

    const elements: any[] = [];
    PANELS.forEach((p) => {
      const cx = p.left + p.width / 2;
      const cy = p.top + p.height / 2;
      elements.push({
        type: "rect",
        z: 100,
        silent: true,
        shape: { x: p.left, y: p.top, width: p.width, height: p.height },
        style: { fill: "none", stroke: "#000", lineWidth: 3 },
      });
      elements.push({
        type: "text",
        z: 100,
        silent: true,
        x: cx,
        y: p.titleBase - 0.346 * 54,
        style: { text: p.title, fontSize: 54, fontFamily: FONT, fill: "#000", align: "center", verticalAlign: "middle", textAlign: "center", textVerticalAlign: "middle" },
      });
      elements.push({
        type: "text",
        z: 100,
        silent: true,
        x: cx,
        y: p.xNameBase - 0.346 * 59,
        style: { text: "Epochs", fontSize: 59, fontFamily: FONT, fill: "#000", align: "center", verticalAlign: "middle", textAlign: "center", textVerticalAlign: "middle" },
      });
      elements.push({
        type: "text",
        z: 100,
        silent: true,
        x: p.yNameBase - 0.346 * 59,
        y: cy,
        rotation: Math.PI / 2,
        style: { text: "cos_loss", fontSize: 59, fontFamily: FONT, fill: "#000", align: "center", verticalAlign: "middle", textAlign: "center", textVerticalAlign: "middle" },
      });
    });

    chart.setOption({
      animation: false,
      backgroundColor: "#ffffff",
      grid: grids,
      xAxis: xAxes,
      yAxis: yAxes,
      series,
      graphic: { elements },
    });

    return () => {
      chart.dispose();
    };
  }, []);

  return <div ref={ref} style={{ width: 2696, height: 1291 }} />;
}
